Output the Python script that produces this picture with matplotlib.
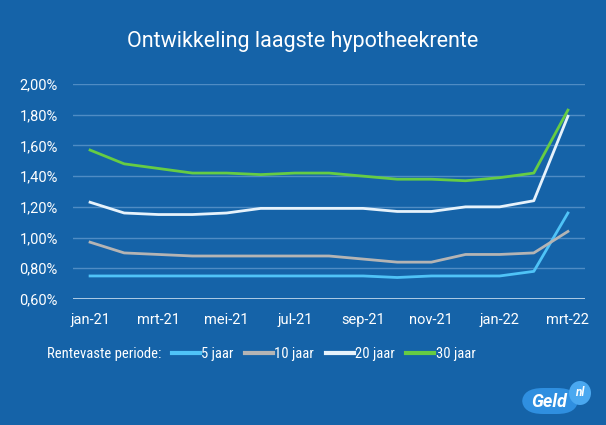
import numpy as np
import matplotlib.pyplot as plt
from matplotlib import font_manager
from matplotlib.patches import FancyBboxPatch, Ellipse

plt.rcParams['font.family'] = ['Roboto', 'DejaVu Sans']

# data (rente in %)
months = ["jan-21", "feb-21", "mrt-21", "apr-21", "mei-21", "jun-21", "jul-21", "aug-21",
          "sep-21", "okt-21", "nov-21", "dec-21", "jan-22", "feb-22", "mrt-22"]
rente_5 = [0.75, 0.75, 0.75, 0.75, 0.75, 0.75, 0.75, 0.75, 0.75, 0.74, 0.75, 0.75, 0.75, 0.78, 1.16]
rente_10 = [0.97, 0.90, 0.89, 0.88, 0.88, 0.88, 0.88, 0.88, 0.86, 0.84, 0.84, 0.89, 0.89, 0.90, 1.04]
rente_20 = [1.23, 1.16, 1.15, 1.15, 1.16, 1.19, 1.19, 1.19, 1.19, 1.17, 1.17, 1.20, 1.20, 1.24, 1.79]
rente_30 = [1.57, 1.48, 1.45, 1.42, 1.42, 1.41, 1.42, 1.42, 1.40, 1.38, 1.38, 1.37, 1.39, 1.42, 1.83]
series_labels = ["5 jaar", "10 jaar", "20 jaar", "30 jaar"]
y_ticks = [0.6, 0.8, 1.0, 1.2, 1.4, 1.6, 1.8, 2.0]

bg = "#1563a8"
colors = ["#4fc3f7", "#b4b4b4", "#e6f2fb", "#66cc44"]

# narrow font for the legend row, if one is installed
names = {f.name for f in font_manager.fontManager.ttflist}
narrow = [n for n in ["Roboto Condensed", "Liberation Sans Narrow", "DejaVu Sans Condensed"]
          if n in names]
leg_family = narrow[:1] + ["Roboto"]
leg_size = 10.5 if narrow else 9.2

fig = plt.figure(figsize=(6.06, 4.25), dpi=100, facecolor=bg)
ax = fig.add_axes([73 / 606, 1 - 299 / 425, 512 / 606, 215 / 425])
ax.set_facecolor(bg)

x = np.arange(len(months))
for vals, c, lab in zip([rente_5, rente_10, rente_20, rente_30], colors, series_labels):
    ax.plot(x, vals, color=c, lw=2.0, label=lab, zorder=3)

ax.set_xlim(-0.5, len(months) - 0.5)
ax.set_ylim(0.6, 2.0)
ax.set_yticks(y_ticks)
ax.set_yticklabels([f"{v:.2f}%".replace(".", ",") for v in y_ticks])
ax.set_xticks(x[::2])
ax.set_xticklabels(months[::2])
ax.tick_params(colors="white", labelsize=10.5, length=0)
ax.tick_params(axis="y", pad=11)
ax.tick_params(axis="x", pad=10)
ax.grid(axis="y", color="#4f8cc4", lw=1.0, zorder=1)
for s in ax.spines.values():
    s.set_visible(False)
ax.axhline(0.6, color="#c8dcef", lw=1.2, zorder=2)

fig.text(0.5, 1 - 42 / 425, "Ontwikkeling laagste hypotheekrente", color="white",
         fontsize=15.5, ha="center", va="center")

fig.text(47 / 606, 1 - 354 / 425, "Rentevaste periode:", color="white", fontsize=leg_size,
         family=leg_family, ha="left", va="center")
leg = fig.legend(loc="center left", bbox_to_anchor=(172 / 606, 1 - 354 / 425), ncol=4,
                 frameon=False, handlelength=1.9, handletextpad=0.1, columnspacing=0.8,
                 prop={"family": leg_family, "size": leg_size}, labelcolor="white",
                 borderaxespad=0, borderpad=0)
for line in leg.get_lines():
    line.set_linewidth(3)

# Geld.nl logo
logo = FancyBboxPatch((522 / 606, 1 - 414 / 425), 56 / 606, 26 / 425,
                      boxstyle="round,pad=0,rounding_size=0.035", transform=fig.transFigure,
                      facecolor="#2f8fe0", edgecolor="none")
fig.add_artist(logo)
fig.add_artist(Ellipse((580 / 606, 1 - 393 / 425), 22 / 606, 24 / 425,
                       transform=fig.transFigure, facecolor="#4aa8f0", edgecolor="none"))
fig.text(549 / 606, 1 - 402 / 425, "Geld", color="white", fontsize=13, fontweight="bold",
         style="italic", ha="center", va="center")
fig.text(580 / 606, 1 - 393 / 425, "nl", color="white", fontsize=8.5, fontweight="bold",
         style="italic", ha="center", va="center")

fig.savefig("out.png", dpi=100, facecolor=bg)
